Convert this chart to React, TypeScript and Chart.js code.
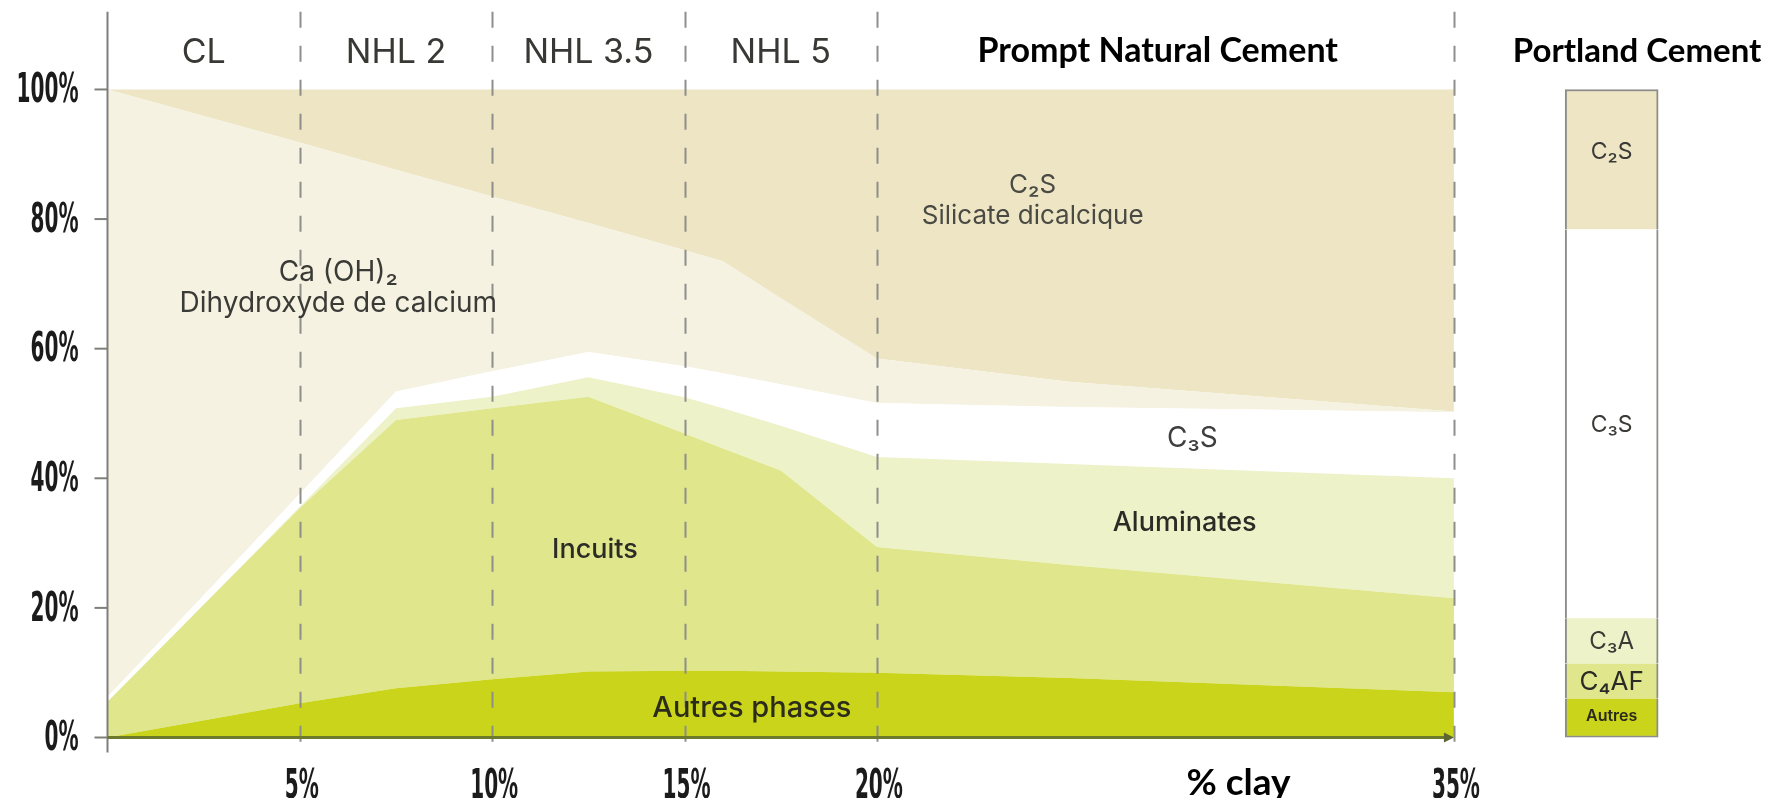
import React, { useEffect, useRef } from 'react';
import { Chart, registerables } from 'chart.js';

Chart.register(...registerables);

// ---- Data (percent of phases vs % clay) ----
const clayPct = [0, 5, 7.5, 10, 12.5, 15, 16, 17.5, 20, 25, 35];
const autresPhases = [0, 5.3, 7.6, 9.0, 10.2, 10.3, 10.3, 10.2, 10.0, 9.2, 7.0];
const incuits = [5.5, 30.1, 41.4, 41.8, 42.4, 36.6, 34.3, 31.0, 19.4, 17.4, 14.5];
const aluminates = [0, 0.2, 1.8, 1.8, 3.0, 5.6, 6.2, 6.9, 13.9, 15.6, 18.5];
const c3s = [0.8, 2.0, 2.6, 3.9, 3.9, 4.8, 5.4, 6.4, 8.3, 8.8, 10.2];
const caOH2 = [93.7, 54.2, 34.2, 27.0, 19.9, 17.9, 17.3, 13.3, 6.9, 3.9, 0.1];
const c2s = [0, 8.2, 12.4, 16.5, 20.6, 24.8, 26.5, 32.2, 41.5, 45.1, 49.7];

const seriesNames = ['Autres phases', 'Incuits', 'Aluminates', 'C₃S', 'Ca(OH)₂', 'C₂S'];
const seriesColors = ['#c9d41b', '#dfe68b', '#eef2c9', '#ffffff', '#f5f2e2', '#ede5c3'];

const portlandPhases = ['Autres', 'C₄AF', 'C₃A', 'C₃S', 'C₂S'];
const portlandShares = [6, 5.4, 7, 60, 21.6];
const portlandColors = ['#c9d41b', '#dfe68b', '#eef2c9', '#ffffff', '#ede5c3'];

const xTickValues = [5, 10, 15, 20, 35];
const xTickLabels = ['5%', '10%', '15%', '20%', '35%'];
const yTickValues = [0, 20, 40, 60, 80, 100];
const yTickLabels = ['0%', '20%', '40%', '60%', '80%', '100%'];

const limeClasses = ['CL', 'NHL 2', 'NHL 3.5', 'NHL 5'];
const limeClassCenters = [2.5, 7.5, 12.5, 17.5];

// ---- layout constants ----
const PORTLAND_X = 39.1;
const X_MAX = 43;
const Y_MAX = 112;

const TEXT = '#3a3a36';
const LABEL_FONT = 'Inter, "DejaVu Sans", sans-serif';
const TITLE_FONT = 'Lato, "Open Sans", sans-serif';
const TICK_FONT = 'bold 41px "Liberation Sans Narrow", "DejaVu Sans Condensed", "Liberation Sans", sans-serif';

const overlayPlugin = {
  id: 'overlay',
  afterDatasetsDraw(chart: any) {
    const { ctx } = chart;
    const xs = chart.scales.x;
    const ys = chart.scales.y;
    const X = (v: number) => xs.getPixelForValue(v);
    const Y = (v: number) => ys.getPixelForValue(v);
    const below = Y(0) + 15;

    ctx.save();
    // dashed separators
    ctx.strokeStyle = '#8e8e8a';
    ctx.lineWidth = 2;
    ctx.setLineDash([16, 18]);
    xTickValues.forEach((v) => {
      ctx.beginPath();
      ctx.moveTo(Math.round(X(v)) + 0.5, Y(Y_MAX));
      ctx.lineTo(Math.round(X(v)) + 0.5, below);
      ctx.stroke();
    });
    ctx.setLineDash([]);

    // y axis line + ticks
    ctx.strokeStyle = '#7f7f7a';
    ctx.lineWidth = 2;
    ctx.beginPath();
    ctx.moveTo(X(0), Y(Y_MAX));
    ctx.lineTo(X(0), below);
    ctx.stroke();
    yTickValues.forEach((v) => {
      ctx.beginPath();
      ctx.moveTo(X(0) - 13, Y(v));
      ctx.lineTo(X(0), Y(v));
      ctx.stroke();
    });

    // x axis line with arrow
    ctx.strokeStyle = '#6d7a2c';
    ctx.lineWidth = 3;
    ctx.beginPath();
    ctx.moveTo(X(0), Y(0));
    ctx.lineTo(X(35) - 6, Y(0));
    ctx.stroke();
    ctx.fillStyle = '#5d6630';
    ctx.beginPath();
    ctx.moveTo(X(35), Y(0));
    ctx.lineTo(X(35) - 10, Y(0) - 5);
    ctx.lineTo(X(35) - 10, Y(0) + 5);
    ctx.closePath();
    ctx.fill();

    // condensed tick labels
    ctx.font = TICK_FONT;
    const sx = 62 / ctx.measureText('100%').width;
    const condensed = (text: string, px: number, py: number, align: CanvasTextAlign) => {
      ctx.save();
      ctx.translate(px, py);
      ctx.scale(sx, 1);
      ctx.font = TICK_FONT;
      ctx.fillStyle = '#1b1b1b';
      ctx.textAlign = align;
      ctx.textBaseline = 'middle';
      ctx.fillText(text, 0, 0);
      ctx.restore();
    };
    yTickValues.forEach((v, i) => condensed(yTickLabels[i], X(0) - 29, Y(v) + 2, 'right'));
    xTickValues.forEach((v, i) => condensed(xTickLabels[i], X(v) + 2, Y(0) + 50, 'center'));

    const text = (t: string, xv: number, yv: number, font: string, color = TEXT) => {
      ctx.font = font;
      ctx.fillStyle = color;
      ctx.textAlign = 'center';
      ctx.textBaseline = 'middle';
      ctx.fillText(t, X(xv), Y(yv));
    };

    // top classes
    limeClasses.forEach((c, i) => text(c, limeClassCenters[i], 105.6, `400 34px ${LABEL_FONT}`, '#383835'));
    text('Prompt Natural Cement', 27.3, 105.9, `700 34px ${TITLE_FONT}`, '#000');
    text('Portland Cement', 39.76, 105.9, `700 33px ${TITLE_FONT}`, '#000');
    text('% clay', 29.4, -7.0, `700 37px ${TITLE_FONT}`, '#000');

    // area labels
    const f = `400 28px ${LABEL_FONT}`;
    const fm = `500 27px ${LABEL_FONT}`;
    text('Ca (OH)₂', 6.0, 71.7, f);
    text('Dihydroxyde de calcium', 6.0, 66.9, f);
    text('C₂S', 24.05, 85.3, `400 26px ${LABEL_FONT}`, '#4a4a44');
    text('Silicate dicalcique', 24.05, 80.5, `400 26px ${LABEL_FONT}`, '#4a4a44');
    text('Incuits', 12.67, 28.9, fm, '#2c2c26');
    text('C₃S', 28.2, 46.2, f, '#3e3e3e');
    text('Aluminates', 28.0, 33.1, fm, '#2c2c26');
    text('Autres phases', 16.75, 4.55, `500 29px ${LABEL_FONT}`, '#2c2c1a');

    // portland bar labels
    text('C₂S', PORTLAND_X, 90.4, `400 23px ${LABEL_FONT}`, '#3a3a36');
    text('C₃S', PORTLAND_X, 48.2, `400 23px ${LABEL_FONT}`, '#3a3a36');
    text('C₃A', PORTLAND_X, 14.8, `400 24px ${LABEL_FONT}`, '#3a3a36');
    text('C₄AF', PORTLAND_X, 8.6, `400 26px ${LABEL_FONT}`, '#2a2a26');
    text('Autres', PORTLAND_X, 3.3, `600 16px ${LABEL_FONT}`, '#2a2a1a');

    ctx.restore();
  },
};

const lineSeries = [autresPhases, incuits, aluminates, c3s, caOH2, c2s];

export default function App() {
  const canvasRef = useRef<HTMLCanvasElement | null>(null);

  useEffect(() => {
    if (!canvasRef.current) return;
    const lineDatasets = lineSeries.map((arr, i) => ({
      type: 'line' as const,
      label: seriesNames[i],
      data: clayPct.map((x, j) => ({ x, y: arr[j] })),
      backgroundColor: seriesColors[i],
      borderColor: seriesColors[i],
      borderWidth: 0,
      pointRadius: 0,
      tension: 0,
      fill: i === 0 ? 'origin' : '-1',
      stack: 'clay',
    }));
    const n = portlandPhases.length;
    const barDatasets = portlandPhases.map((name, i) => ({
      type: 'bar' as const,
      label: 'Portland ' + name,
      data: [{ x: PORTLAND_X, y: portlandShares[i] }],
      backgroundColor: portlandColors[i],
      borderColor: '#8d8d88',
      borderWidth: { left: 2, right: 2, top: i === n - 1 ? 2 : 0, bottom: i === 0 ? 2 : 0 },
      borderSkipped: false,
      barThickness: 93,
      stack: 'portland',
    }));

    const chart = new Chart(canvasRef.current, {
      type: 'line',
      data: { datasets: [...lineDatasets, ...barDatasets] as any },
      options: {
        animation: false,
        responsive: true,
        maintainAspectRatio: false,
        layout: { padding: { left: 99.5, right: 4.3, top: 3.7, bottom: 60.5 } },
        plugins: { legend: { display: false }, tooltip: { enabled: false } },
        scales: {
          x: { type: 'linear', min: 0, max: X_MAX, offset: false, display: false, grid: { offset: false } },
          y: { type: 'linear', min: 0, max: Y_MAX, stacked: true, display: false },
        },
      } as any,
      plugins: [overlayPlugin],
    });
    return () => chart.destroy();
  }, []);

  return (
    <div style={{ width: 1758, height: 790, position: 'relative', background: '#fff' }}>
      <canvas ref={canvasRef} />
    </div>
  );
}
